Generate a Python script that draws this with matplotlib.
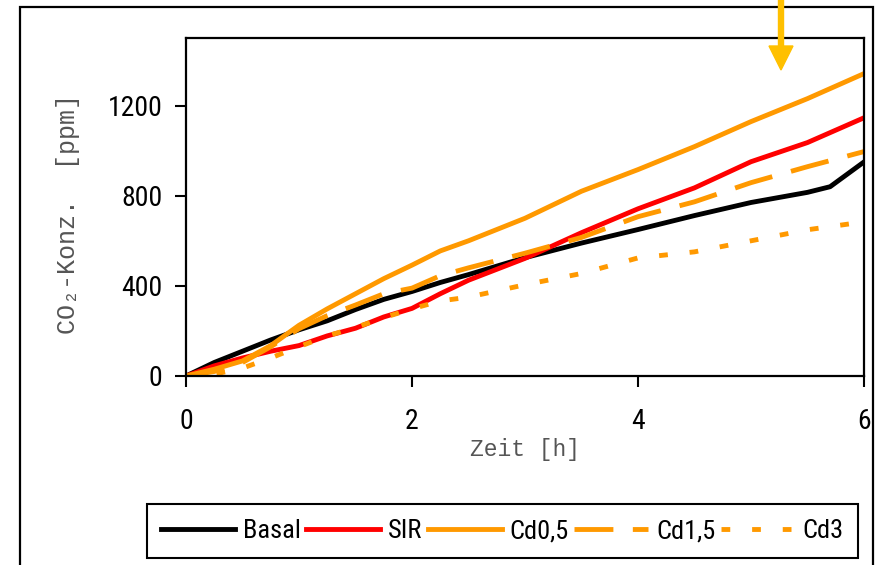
import matplotlib
matplotlib.use("Agg")
import matplotlib.pyplot as plt
from matplotlib import font_manager
from matplotlib.font_manager import FontProperties
from matplotlib.patches import Rectangle, FancyArrow

# ---- data ----
t_basal = [0, 0.25, 0.5, 0.75, 1, 1.25, 1.5, 1.75, 2, 2.25, 2.5, 3, 3.5, 4, 4.5, 5, 5.5, 5.7, 6]
basal = [0, 60, 110, 160, 205, 245, 295, 340, 375, 415, 450, 525, 590, 650, 712, 770, 815, 840, 950]

t = [0, 0.25, 0.5, 0.75, 1, 1.25, 1.5, 1.75, 2, 2.25, 2.5, 3, 3.5, 4, 4.5, 5, 5.5, 6]
sir = [0, 45, 80, 110, 135, 178, 212, 262, 300, 365, 425, 522, 636, 742, 835, 951, 1036, 1146]
cd05 = [0, 30, 67, 135, 225, 298, 365, 432, 492, 555, 600, 700, 820, 916, 1018, 1129, 1231, 1342]
cd15 = [0, 20, 60, 130, 210, 268, 315, 365, 390, 445, 480, 545, 615, 707, 773, 858, 929, 996]
cd3 = [0, 8, 35, 80, 130, 178, 215, 259, 298, 333, 350, 405, 455, 524, 551, 600, 649, 684]

labels = ["Basal", "SIR", "Cd0,5", "Cd1,5", "Cd3"]
xticks = [0, 2, 4, 6]
yticks = [0, 400, 800, 1200]

# ---- fonts: look for a narrow / condensed sans face ----
narrow_path = None
pref = ["Liberation Sans Narrow", "Arial Narrow", "Roboto Condensed", "Open Sans Condensed",
        "Noto Sans", "DejaVu Sans", "Roboto", "Open Sans", "Lato", "Inter"]
cands = []
for f in font_manager.fontManager.ttflist:
    nm = f.name
    fn = f.fname.lower()
    is_narrow = ("narrow" in nm.lower() or "condensed" in nm.lower() or "narrow" in fn
                 or ("condensed" in fn and "semi" not in fn and "extra" not in fn)
                 or f.stretch in ("condensed", 75))
    if not is_narrow:
        continue
    if f.weight not in ("normal", "regular", 400, "book"):
        continue
    if f.style != "normal":
        continue
    rank = pref.index(nm) if nm in pref else len(pref)
    cands.append((rank, f.fname))
cands.sort()
if cands:
    narrow_path = cands[0][1]

if narrow_path:
    tick_fp = FontProperties(fname=narrow_path, size=20)
    leg_fp = FontProperties(fname=narrow_path, size=19)
else:
    tick_fp = FontProperties(family="Liberation Sans", size=19)
    leg_fp = FontProperties(family="Liberation Sans", size=17)
mono = ["Liberation Mono", "DejaVu Sans Mono"]

W, H = 8.77, 5.65
fig = plt.figure(figsize=(W, H), dpi=100)
ax = fig.add_axes([186 / 877, 1 - 376 / 565, (864 - 186) / 877, (376 - 38) / 565])

orange = "#FF9900"
lw = 3.5
ax.plot(t_basal, basal, color="black", lw=lw, label=labels[0], solid_joinstyle="round")
ax.plot(t, sir, color="#FF0000", lw=lw, label=labels[1], solid_joinstyle="round")
ax.plot(t, cd05, color=orange, lw=lw, label=labels[2], solid_joinstyle="round")
ax.plot(t, cd15, color=orange, lw=lw, label=labels[3], dashes=(8, 4), dash_capstyle="butt")
ax.plot(t, cd3, color=orange, lw=lw, label=labels[4], dashes=(1.8, 4.5), dash_capstyle="butt")

ax.set_xlim(0, 6)
ax.set_ylim(0, 1500)
ax.set_xticks(xticks)
ax.set_yticks(yticks)
ax.set_xticklabels([str(v) for v in xticks], fontproperties=tick_fp)
ax.set_yticklabels([str(v) for v in yticks], fontproperties=tick_fp)
ax.tick_params(axis="x", direction="out", length=8, width=1.5, pad=15)
ax.tick_params(axis="y", direction="out", length=8, width=1.5, pad=9)
for s in ax.spines.values():
    s.set_linewidth(1.6)
    s.set_color("black")

ax.set_xlabel("Zeit [h]", family=mono, fontsize=16.5, color="#555555", labelpad=2)
ax.set_ylabel("CO₂-Konz.  [ppm]", family=mono, fontsize=18, color="#555555")
ax.yaxis.set_label_coords(-0.157, 0.48)

leg = fig.legend(loc="center", bbox_to_anchor=(502.5 / 877, 1 - 531 / 565), ncol=5,
                 prop=leg_fp, frameon=True, fancybox=False,
                 edgecolor="black", framealpha=1, handlelength=2.8, handletextpad=0.3,
                 columnspacing=0.2, borderpad=0.55, borderaxespad=0)
leg.get_frame().set_linewidth(1.5)

# outer frame
fig.patches.append(Rectangle((0.20, -0.2), 8.53, H - 0.07 + 0.2, transform=fig.dpi_scale_trans,
                             fill=False, edgecolor="black", lw=1.6))
# arrow
fig.patches.append(FancyArrow(7.81, H + 0.05, 0, -0.75, width=0.05, head_width=0.24,
                              head_length=0.24, length_includes_head=True, color="#FFC000",
                              transform=fig.dpi_scale_trans))

fig.savefig("out.png", dpi=100)
